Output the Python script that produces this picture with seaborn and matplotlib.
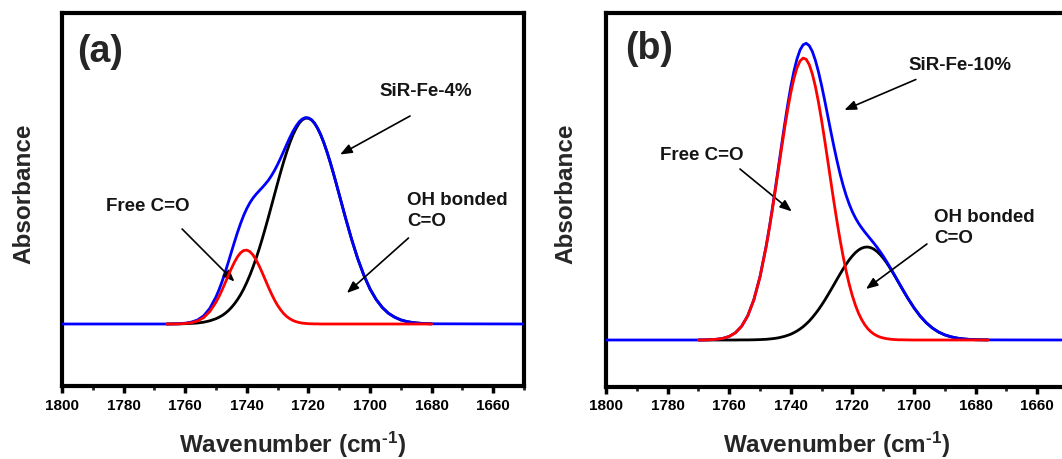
import numpy as np
import pandas as pd
import matplotlib
matplotlib.use("Agg")
import matplotlib.pyplot as plt
from matplotlib.ticker import MultipleLocator
import seaborn as sns

# ---------------- data ----------------
# Panel (a): SiR-Fe-4%, every 2 cm-1
wn_a = list(range(1766, 1678, -2))
free_a = [0.000, 0.000, 0.002, 0.005, 0.013, 0.030, 0.064, 0.125, 0.218, 0.342,
          0.485, 0.619, 0.713, 0.739, 0.691, 0.582, 0.442, 0.302, 0.186, 0.103,
          0.052, 0.023, 0.009, 0.003, 0.001, 0.000, 0.000, 0.000, 0.000, 0.000,
          0.000, 0.000, 0.000, 0.000, 0.000, 0.000, 0.000, 0.000, 0.000, 0.000,
          0.000, 0.000, 0.000, 0.000]
bonded_a = [0.000, 0.001, 0.001, 0.003, 0.006, 0.010, 0.018, 0.032, 0.053, 0.085,
            0.133, 0.202, 0.294, 0.416, 0.568, 0.749, 0.957, 1.181, 1.409, 1.626,
            1.814, 1.956, 2.041, 2.058, 2.007, 1.892, 1.724, 1.520, 1.295, 1.067,
            0.850, 0.655, 0.488, 0.351, 0.245, 0.165, 0.107, 0.068, 0.041, 0.024,
            0.014, 0.008, 0.004, 0.002]
total_a = [0.000, 0.001, 0.003, 0.008, 0.019, 0.040, 0.082, 0.157, 0.271, 0.427,
           0.618, 0.821, 1.007, 1.155, 1.259, 1.331, 1.399, 1.483, 1.595, 1.729,
           1.866, 1.979, 2.050, 2.061, 2.008, 1.892, 1.724, 1.520, 1.295, 1.067,
           0.850, 0.655, 0.488, 0.351, 0.245, 0.165, 0.107, 0.068, 0.041, 0.024,
           0.014, 0.008, 0.004, 0.002]
# extra readings across the peak region of (a)
wn_a_peak = list(range(1749, 1710, -2))
free_a_peak = [0.276, 0.413, 0.555, 0.673, 0.735, 0.724, 0.642, 0.514, 0.370, 0.240,
               0.141, 0.074, 0.035, 0.015, 0.006, 0.002, 0.001, 0.000, 0.000, 0.000]
bonded_a_peak = [0.068, 0.107, 0.165, 0.245, 0.351, 0.488, 0.655, 0.850, 1.067, 1.295,
                 1.520, 1.724, 1.892, 2.007, 2.058, 2.041, 1.956, 1.814, 1.626, 1.409]
total_a_peak = [0.344, 0.520, 0.720, 0.918, 1.087, 1.212, 1.297, 1.364, 1.437, 1.536,
                1.660, 1.799, 1.927, 2.022, 2.064, 2.043, 1.957, 1.814, 1.626, 1.409]

# Panel (b): SiR-Fe-10%, every 2 cm-1
wn_b = list(range(1770, 1674, -2))
free_b = [0.000, 0.001, 0.003, 0.008, 0.017, 0.036, 0.072, 0.136, 0.240, 0.401,
          0.630, 0.932, 1.301, 1.710, 2.119, 2.473, 2.720, 2.819, 2.753, 2.533,
          2.196, 1.794, 1.381, 1.001, 0.684, 0.441, 0.267, 0.153, 0.082, 0.042,
          0.020, 0.009, 0.004, 0.002, 0.001, 0.000, 0.000, 0.000, 0.000, 0.000,
          0.000, 0.000, 0.000, 0.000, 0.000, 0.000, 0.000, 0.000]
bonded_b = [0.000, 0.000, 0.000, 0.000, 0.000, 0.000, 0.000, 0.001, 0.001, 0.002,
            0.004, 0.007, 0.013, 0.022, 0.037, 0.058, 0.090, 0.133, 0.190, 0.263,
            0.349, 0.448, 0.553, 0.660, 0.759, 0.841, 0.900, 0.928, 0.923, 0.885,
            0.819, 0.730, 0.628, 0.521, 0.417, 0.322, 0.239, 0.172, 0.119, 0.079,
            0.051, 0.032, 0.019, 0.011, 0.006, 0.003, 0.002, 0.001]
total_b = [0.000, 0.001, 0.003, 0.008, 0.017, 0.036, 0.072, 0.136, 0.241, 0.403,
           0.634, 0.940, 1.314, 1.733, 2.156, 2.532, 2.810, 2.952, 2.943, 2.795,
           2.545, 2.241, 1.934, 1.661, 1.443, 1.282, 1.167, 1.081, 1.005, 0.927,
           0.839, 0.739, 0.632, 0.523, 0.418, 0.322, 0.239, 0.172, 0.119, 0.079,
           0.051, 0.032, 0.019, 0.011, 0.006, 0.003, 0.002, 0.001]
# extra readings across the peak region of (b)
wn_b_peak = list(range(1747, 1704, -2))
free_b_peak = [1.110, 1.503, 1.918, 2.306, 2.613, 2.790, 2.807, 2.660, 2.376, 1.999,
               1.585, 1.185, 0.834, 0.553, 0.346, 0.204, 0.113, 0.059, 0.029, 0.014,
               0.006, 0.002]
bonded_b_peak = [0.010, 0.017, 0.029, 0.047, 0.073, 0.110, 0.160, 0.225, 0.304, 0.397,
                 0.500, 0.607, 0.711, 0.803, 0.874, 0.918, 0.930, 0.908, 0.855, 0.777,
                 0.680, 0.575]
total_b_peak = [1.119, 1.520, 1.947, 2.353, 2.686, 2.900, 2.967, 2.885, 2.680, 2.397,
                2.085, 1.792, 1.545, 1.356, 1.220, 1.122, 1.043, 0.967, 0.884, 0.790,
                0.686, 0.577]

x_range = [1800, 1650]
tick_values = [1800, 1780, 1760, 1740, 1720, 1700, 1680, 1660]
panel_tags = ["(a)", "(b)"]
sample_names = ["SiR-Fe-4%", "SiR-Fe-10%"]

# ---------------- style ----------------
sns.set_theme(style="white")
plt.rcParams["font.family"] = ["Liberation Sans", "DejaVu Sans"]
plt.rcParams["font.weight"] = "bold"
plt.rcParams["mathtext.fontset"] = "custom"
plt.rcParams["mathtext.rm"] = "Liberation Sans:bold"
plt.rcParams["mathtext.bf"] = "Liberation Sans:bold"
plt.rcParams["mathtext.it"] = "Liberation Sans:bold"

W, H = 1062, 459
fig = plt.figure(figsize=(W / 100, H / 100), dpi=100)

def px_axes(l, t, r, b):
    return fig.add_axes([l / W, 1 - b / H, (r - l) / W, (b - t) / H])

ax_a = px_axes(62, 13, 524, 386)
ax_b = px_axes(606, 13, 1068, 387)

BLUE = "#0000ff"
RED = "#ff0000"
BLACK = "#000000"

def build(wn, free, bonded, total, wn_p, free_p, bonded_p, total_p):
    df = pd.concat([
        pd.DataFrame({"wn": wn, "free": free, "bonded": bonded, "total": total}),
        pd.DataFrame({"wn": wn_p, "free": free_p, "bonded": bonded_p, "total": total_p}),
    ]).sort_values("wn", ascending=False).reset_index(drop=True)
    ends = pd.DataFrame({"wn": x_range, "total": [0.0, 0.0]})
    df_tot = pd.concat([ends.iloc[:1], df[["wn", "total"]], ends.iloc[1:]]).reset_index(drop=True)
    return df, df_tot

def draw_panel(ax, df, df_tot, ylim):
    lw = 2.0
    sns.lineplot(data=df, x="wn", y="bonded", ax=ax, color=BLACK, linewidth=lw,
                 sort=False, estimator=None, zorder=2, solid_joinstyle="round")
    sns.lineplot(data=df_tot, x="wn", y="total", ax=ax, color=BLUE, linewidth=lw,
                 sort=False, estimator=None, zorder=3, solid_joinstyle="round")
    sns.lineplot(data=df, x="wn", y="free", ax=ax, color=RED, linewidth=lw,
                 sort=False, estimator=None, zorder=4, solid_joinstyle="round")
    ax.set_xlim(*x_range)
    ax.set_ylim(*ylim)
    ax.set_xlabel("")
    ax.set_ylabel("")
    ax.set_xticks(tick_values)
    ax.set_xticklabels([str(t) for t in tick_values], fontsize=11, fontweight="bold")
    ax.xaxis.set_minor_locator(MultipleLocator(10))
    ax.set_yticks([])
    ax.tick_params(axis="x", which="major", direction="out", length=5, width=2.5,
                   pad=4, colors="black", bottom=True)
    ax.tick_params(axis="x", which="minor", direction="out", length=3, width=2,
                   bottom=True)
    for sp in ax.spines.values():
        sp.set_visible(True)
        sp.set_color("black")
        sp.set_linewidth(3)
    ax.set_facecolor("white")

df_a, tot_a = build(wn_a, free_a, bonded_a, total_a, wn_a_peak, free_a_peak, bonded_a_peak, total_a_peak)
df_b, tot_b = build(wn_b, free_b, bonded_b, total_b, wn_b_peak, free_b_peak, bonded_b_peak, total_b_peak)
draw_panel(ax_a, df_a, tot_a, (-0.62, 3.11))
draw_panel(ax_b, df_b, tot_b, (-0.47, 3.27))

arrow_kw = dict(arrowstyle="-|>,head_length=0.7,head_width=0.28", color="black",
                lw=1.2, shrinkA=0, shrinkB=0, mutation_scale=10)
txt_kw = dict(fontsize=13.5, fontweight="bold", color="#151515")

# panel (a) annotations
ax_a.text(0.083, 0.895, panel_tags[0], transform=ax_a.transAxes, fontsize=27,
          fontweight="bold", ha="center", va="center")
ax_a.text(1682.0, 2.32, sample_names[0], ha="center", va="center", **txt_kw)
ax_a.annotate("", xy=(1709.7, 1.695), xytext=(1687.0, 2.08), arrowprops=arrow_kw)
ax_a.text(1772.1, 1.17, "Free C=O", ha="center", va="center", **txt_kw)
ax_a.annotate("", xy=(1744.0, 0.424), xytext=(1761.0, 0.95), arrowprops=arrow_kw)
ax_a.text(1688.0, 1.13, "OH bonded\nC=O", ha="left", va="center", multialignment="left",
          linespacing=1.25, **txt_kw)
ax_a.annotate("", xy=(1707.5, 0.31), xytext=(1687.5, 0.86), arrowprops=arrow_kw)

# panel (b) annotations
ax_b.text(0.093, 0.904, panel_tags[1], transform=ax_b.transAxes, fontsize=27,
          fontweight="bold", ha="center", va="center")
ax_b.text(1685.2, 2.74, sample_names[1], ha="center", va="center", **txt_kw)
ax_b.annotate("", xy=(1722.6, 2.30), xytext=(1699.4, 2.605), arrowprops=arrow_kw)
ax_b.text(1768.8, 1.85, "Free C=O", ha="center", va="center", **txt_kw)
ax_b.annotate("", xy=(1739.7, 1.286), xytext=(1756.5, 1.71), arrowprops=arrow_kw)
ax_b.text(1693.5, 1.12, "OH bonded\nC=O", ha="left", va="center", multialignment="left",
          linespacing=1.25, **txt_kw)
ax_b.annotate("", xy=(1715.6, 0.51), xytext=(1695.8, 0.96), arrowprops=arrow_kw)

# axis titles
xlab = r"Wavenumber (cm$^{\text{-1}}$)"
fig.text(292 / W, 1 - 445 / H, xlab, fontsize=17.5, fontweight="bold", ha="center", va="center")
fig.text(836 / W, 1 - 445 / H, xlab, fontsize=17.5, fontweight="bold", ha="center", va="center")
fig.text(23.5 / W, 1 - 194 / H, "Absorbance", fontsize=17.5, fontweight="bold",
         rotation=90, ha="center", va="center")
fig.text(566 / W, 1 - 194 / H, "Absorbance", fontsize=17.5, fontweight="bold",
         rotation=90, ha="center", va="center")

fig.savefig("out.png", dpi=100, facecolor="white")
